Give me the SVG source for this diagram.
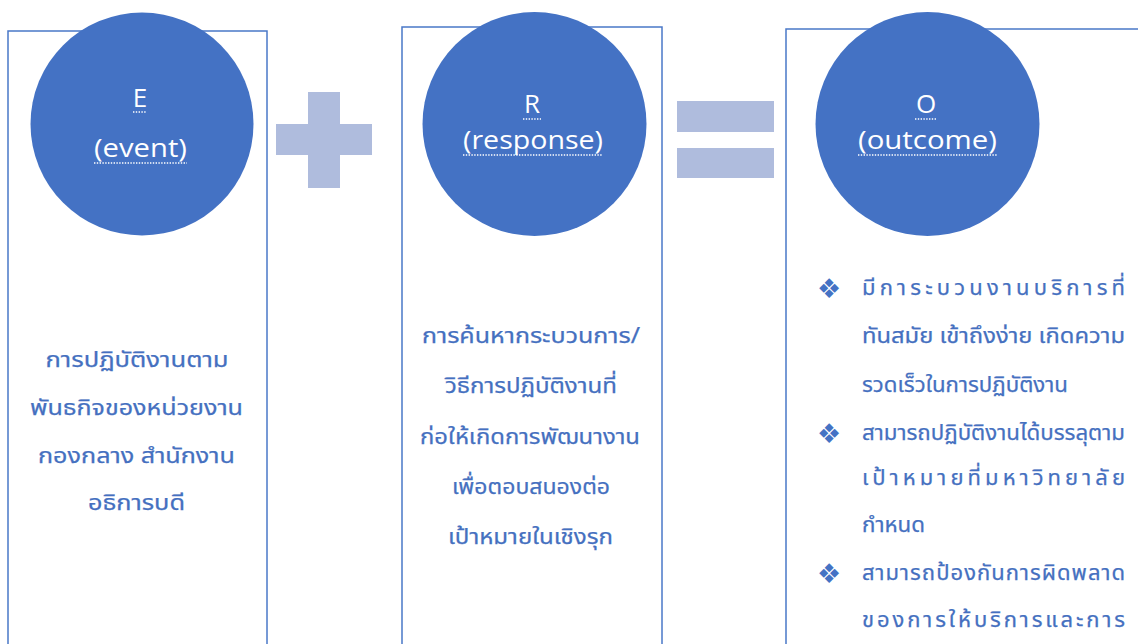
<svg xmlns="http://www.w3.org/2000/svg" width="1138" height="644" viewBox="0 0 1138 644">
<style>
.box{fill:#ffffff;stroke:#4a78c8;stroke-width:1.5}
.circ{fill:#4472c4}
.ttl{fill:#ffffff;font-family:"Open Sans","Liberation Sans",sans-serif;font-size:26px;text-anchor:middle}
.ul{stroke:#ffffff;stroke-width:1.4;stroke-dasharray:1.4 1.4;fill:none}
.th{fill:#4570c0;font-family:"Noto Sans Thai","Noto Sans","Liberation Sans",sans-serif;font-size:22px;stroke:#4570c0;stroke-width:0.25}
.mid{text-anchor:middle}
.op{fill:#afbcdd}
.bul{fill:#4472c4;font-family:"DejaVu Sans",sans-serif;font-size:27px}
</style>
<rect width="1138" height="644" fill="#ffffff"/>
<g id="node-E">
<rect class="box" x="8" y="31" width="259" height="640"/>
<circle class="circ" cx="142" cy="124" r="111.5"/>
<text class="ttl" x="140" y="107">E</text>
<line class="ul" x1="133" y1="112" x2="147" y2="112"/>
<text class="ttl" x="140.5" y="157" textLength="93" lengthAdjust="spacingAndGlyphs">(event)</text>
<line class="ul" x1="94" y1="163" x2="187" y2="163"/>
<text class="th mid" x="137" y="367" textLength="183" lengthAdjust="spacingAndGlyphs">การปฏิบัติงานตาม</text>
<text class="th mid" x="136.5" y="415" textLength="213" lengthAdjust="spacingAndGlyphs">พันธกิจของหน่วยงาน</text>
<text class="th mid" x="136.5" y="463" textLength="197" lengthAdjust="spacingAndGlyphs">กองกลาง สำนักงาน</text>
<text class="th mid" x="136.5" y="510" textLength="97" lengthAdjust="spacingAndGlyphs">อธิการบดี</text>
</g>
<g id="node-R">
<rect class="box" x="402" y="27" width="260" height="640"/>
<circle class="circ" cx="534.5" cy="124" r="112"/>
<text class="ttl" x="532" y="113">R</text>
<line class="ul" x1="523" y1="119" x2="541" y2="119"/>
<text class="ttl" x="533" y="149" textLength="140" lengthAdjust="spacingAndGlyphs">(response)</text>
<line class="ul" x1="463" y1="155" x2="603" y2="155"/>
<text class="th mid" x="531" y="343" textLength="218" lengthAdjust="spacingAndGlyphs">การค้นหากระบวนการ/</text>
<text class="th mid" x="531" y="393" textLength="172" lengthAdjust="spacingAndGlyphs">วิธีการปฏิบัติงานที่</text>
<text class="th mid" x="530" y="444" textLength="220" lengthAdjust="spacingAndGlyphs">ก่อให้เกิดการพัฒนางาน</text>
<text class="th mid" x="531" y="494" textLength="158" lengthAdjust="spacingAndGlyphs">เพื่อตอบสนองต่อ</text>
<text class="th mid" x="530.5" y="544" textLength="165" lengthAdjust="spacingAndGlyphs">เป้าหมายในเชิงรุก</text>
</g>
<g id="node-O">
<rect class="box" x="786" y="29" width="380" height="640"/>
<circle class="circ" cx="927.5" cy="124" r="112"/>
<text class="ttl" x="926" y="113">O</text>
<line class="ul" x1="915" y1="119" x2="937" y2="119"/>
<text class="ttl" x="927.5" y="149" textLength="139" lengthAdjust="spacingAndGlyphs">(outcome)</text>
<line class="ul" x1="858" y1="155" x2="997" y2="155"/>
<text class="bul" x="817" y="298">❖</text>
<text class="bul" x="817" y="443">❖</text>
<text class="bul" x="817" y="583">❖</text>
<text class="th" x="862" y="295" textLength="263" lengthAdjust="spacing">มีการะบวนงานบริการที่</text>
<text class="th" x="862" y="343" textLength="263" lengthAdjust="spacingAndGlyphs">ทันสมัย เข้าถึงง่าย เกิดความ</text>
<text class="th" x="862" y="392" textLength="206" lengthAdjust="spacingAndGlyphs">รวดเร็วในการปฏิบัติงาน</text>
<text class="th" x="862" y="440" textLength="263" lengthAdjust="spacingAndGlyphs">สามารถปฏิบัติงานได้บรรลุตาม</text>
<text class="th" x="862" y="485" textLength="263" lengthAdjust="spacing">เป้าหมายที่มหาวิทยาลัย</text>
<text class="th" x="862" y="532" textLength="63" lengthAdjust="spacingAndGlyphs">กำหนด</text>
<text class="th" x="862" y="580" textLength="263" lengthAdjust="spacing">สามารถป้องกันการผิดพลาด</text>
<text class="th" x="862" y="627" textLength="263" lengthAdjust="spacing">ของการให้บริการและการ</text>
</g>
<g id="connectors">
<g id="plus">
<rect class="op" x="308" y="92" width="32" height="96"/>
<rect class="op" x="276" y="124" width="96" height="31"/>
</g>
<g id="equals">
<rect class="op" x="677" y="101" width="97" height="31"/>
<rect class="op" x="677" y="148" width="97" height="30"/>
</g>
</g>
</svg>
